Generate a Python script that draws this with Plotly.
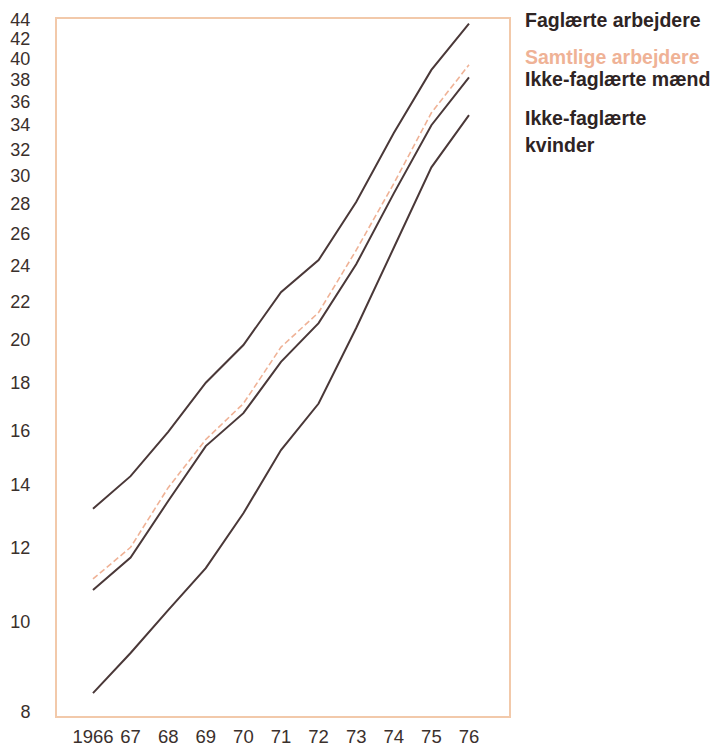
import plotly.graph_objects as go
import math

years = [1966, 1967, 1968, 1969, 1970, 1971, 1972, 1973, 1974, 1975, 1976]
x_labels = ["1966", "67", "68", "69", "70", "71", "72", "73", "74", "75", "76"]

faglaerte = [13.2, 14.3, 15.95, 18.0, 19.75, 22.5, 24.35, 28.1, 33.3, 38.9, 43.6]
samtlige = [11.1, 12.0, 13.9, 15.65, 17.1, 19.65, 21.4, 24.95, 29.4, 35.0, 39.4]
maend = [10.8, 11.7, 13.45, 15.4, 16.7, 18.95, 20.85, 24.1, 28.7, 33.95, 38.2]
kvinder = [8.38, 9.25, 10.28, 11.4, 13.05, 15.25, 17.1, 20.6, 25.1, 30.6, 34.8]

y_ticks = [8, 10, 12, 14, 16, 18, 20, 22, 24, 26, 28, 30, 32, 34, 36, 38, 40, 42, 44]

dark = "#4a3838"
pink = "#efb296"
txt_dark = "#2e2424"
tick_col = "#3a302c"
font_fam = "Liberation Sans, Arial, sans-serif"

fig = go.Figure()
fig.add_trace(go.Scatter(x=years, y=faglaerte, mode="lines",
                         line=dict(color=dark, width=2), name="Faglærte arbejdere"))
fig.add_trace(go.Scatter(x=years, y=samtlige, mode="lines",
                         line=dict(color=pink, width=1.6, dash="6px,3px"), name="Samtlige arbejdere"))
fig.add_trace(go.Scatter(x=years, y=maend, mode="lines",
                         line=dict(color=dark, width=2), name="Ikke-faglærte mænd"))
fig.add_trace(go.Scatter(x=years, y=kvinder, mode="lines",
                         line=dict(color=dark, width=2), name="Ikke-faglærte kvinder"))

labels = [
    ("<b>Faglærte arbejdere</b>", 20, txt_dark),
    ("<b>Samtlige arbejdere</b>", 57, pink),
    ("<b>Ikke-faglærte mænd</b>", 79, txt_dark),
    ("<b>Ikke-faglærte</b>", 118, txt_dark),
    ("<b>kvinder</b>", 145, txt_dark),
]
top_px, bot_px = 19, 716
for txt, ypix, col in labels:
    fig.add_annotation(xref="paper", yref="paper", x=(523 - 57) / 452,
                       y=(bot_px - ypix) / (bot_px - top_px), text=txt, showarrow=False,
                       xanchor="left", yanchor="middle",
                       font=dict(family=font_fam, size=19.5, color=col))

fig.update_layout(
    width=718, height=749,
    margin=dict(l=57, r=209, t=19, b=33, autoexpand=False),
    paper_bgcolor="white", plot_bgcolor="white",
    showlegend=False,
    font=dict(family=font_fam, size=18, color=tick_col),
)
fig.update_xaxes(range=[1965.043, 1977.064], tickvals=years, ticktext=x_labels,
                 showgrid=False, zeroline=False, showline=True, mirror=True,
                 linecolor="#f2c9aa", linewidth=2, ticks="", ticklabelstandoff=3,
                 automargin=False,
                 tickfont=dict(family=font_fam, size=18.5, color=tick_col))
fig.update_yaxes(type="log", range=[math.log10(7.92), math.log10(44.1)],
                 tickvals=y_ticks, ticktext=[str(v) for v in y_ticks],
                 showgrid=False, zeroline=False, showline=True, mirror=True,
                 linecolor="#f2c9aa", linewidth=2, ticks="", ticklabelstandoff=21,
                 automargin=False,
                 tickfont=dict(family=font_fam, size=18, color=tick_col))

fig.write_html("out.html", config={"displayModeBar": False},
               post_script="document.body.style.margin='0px';")
